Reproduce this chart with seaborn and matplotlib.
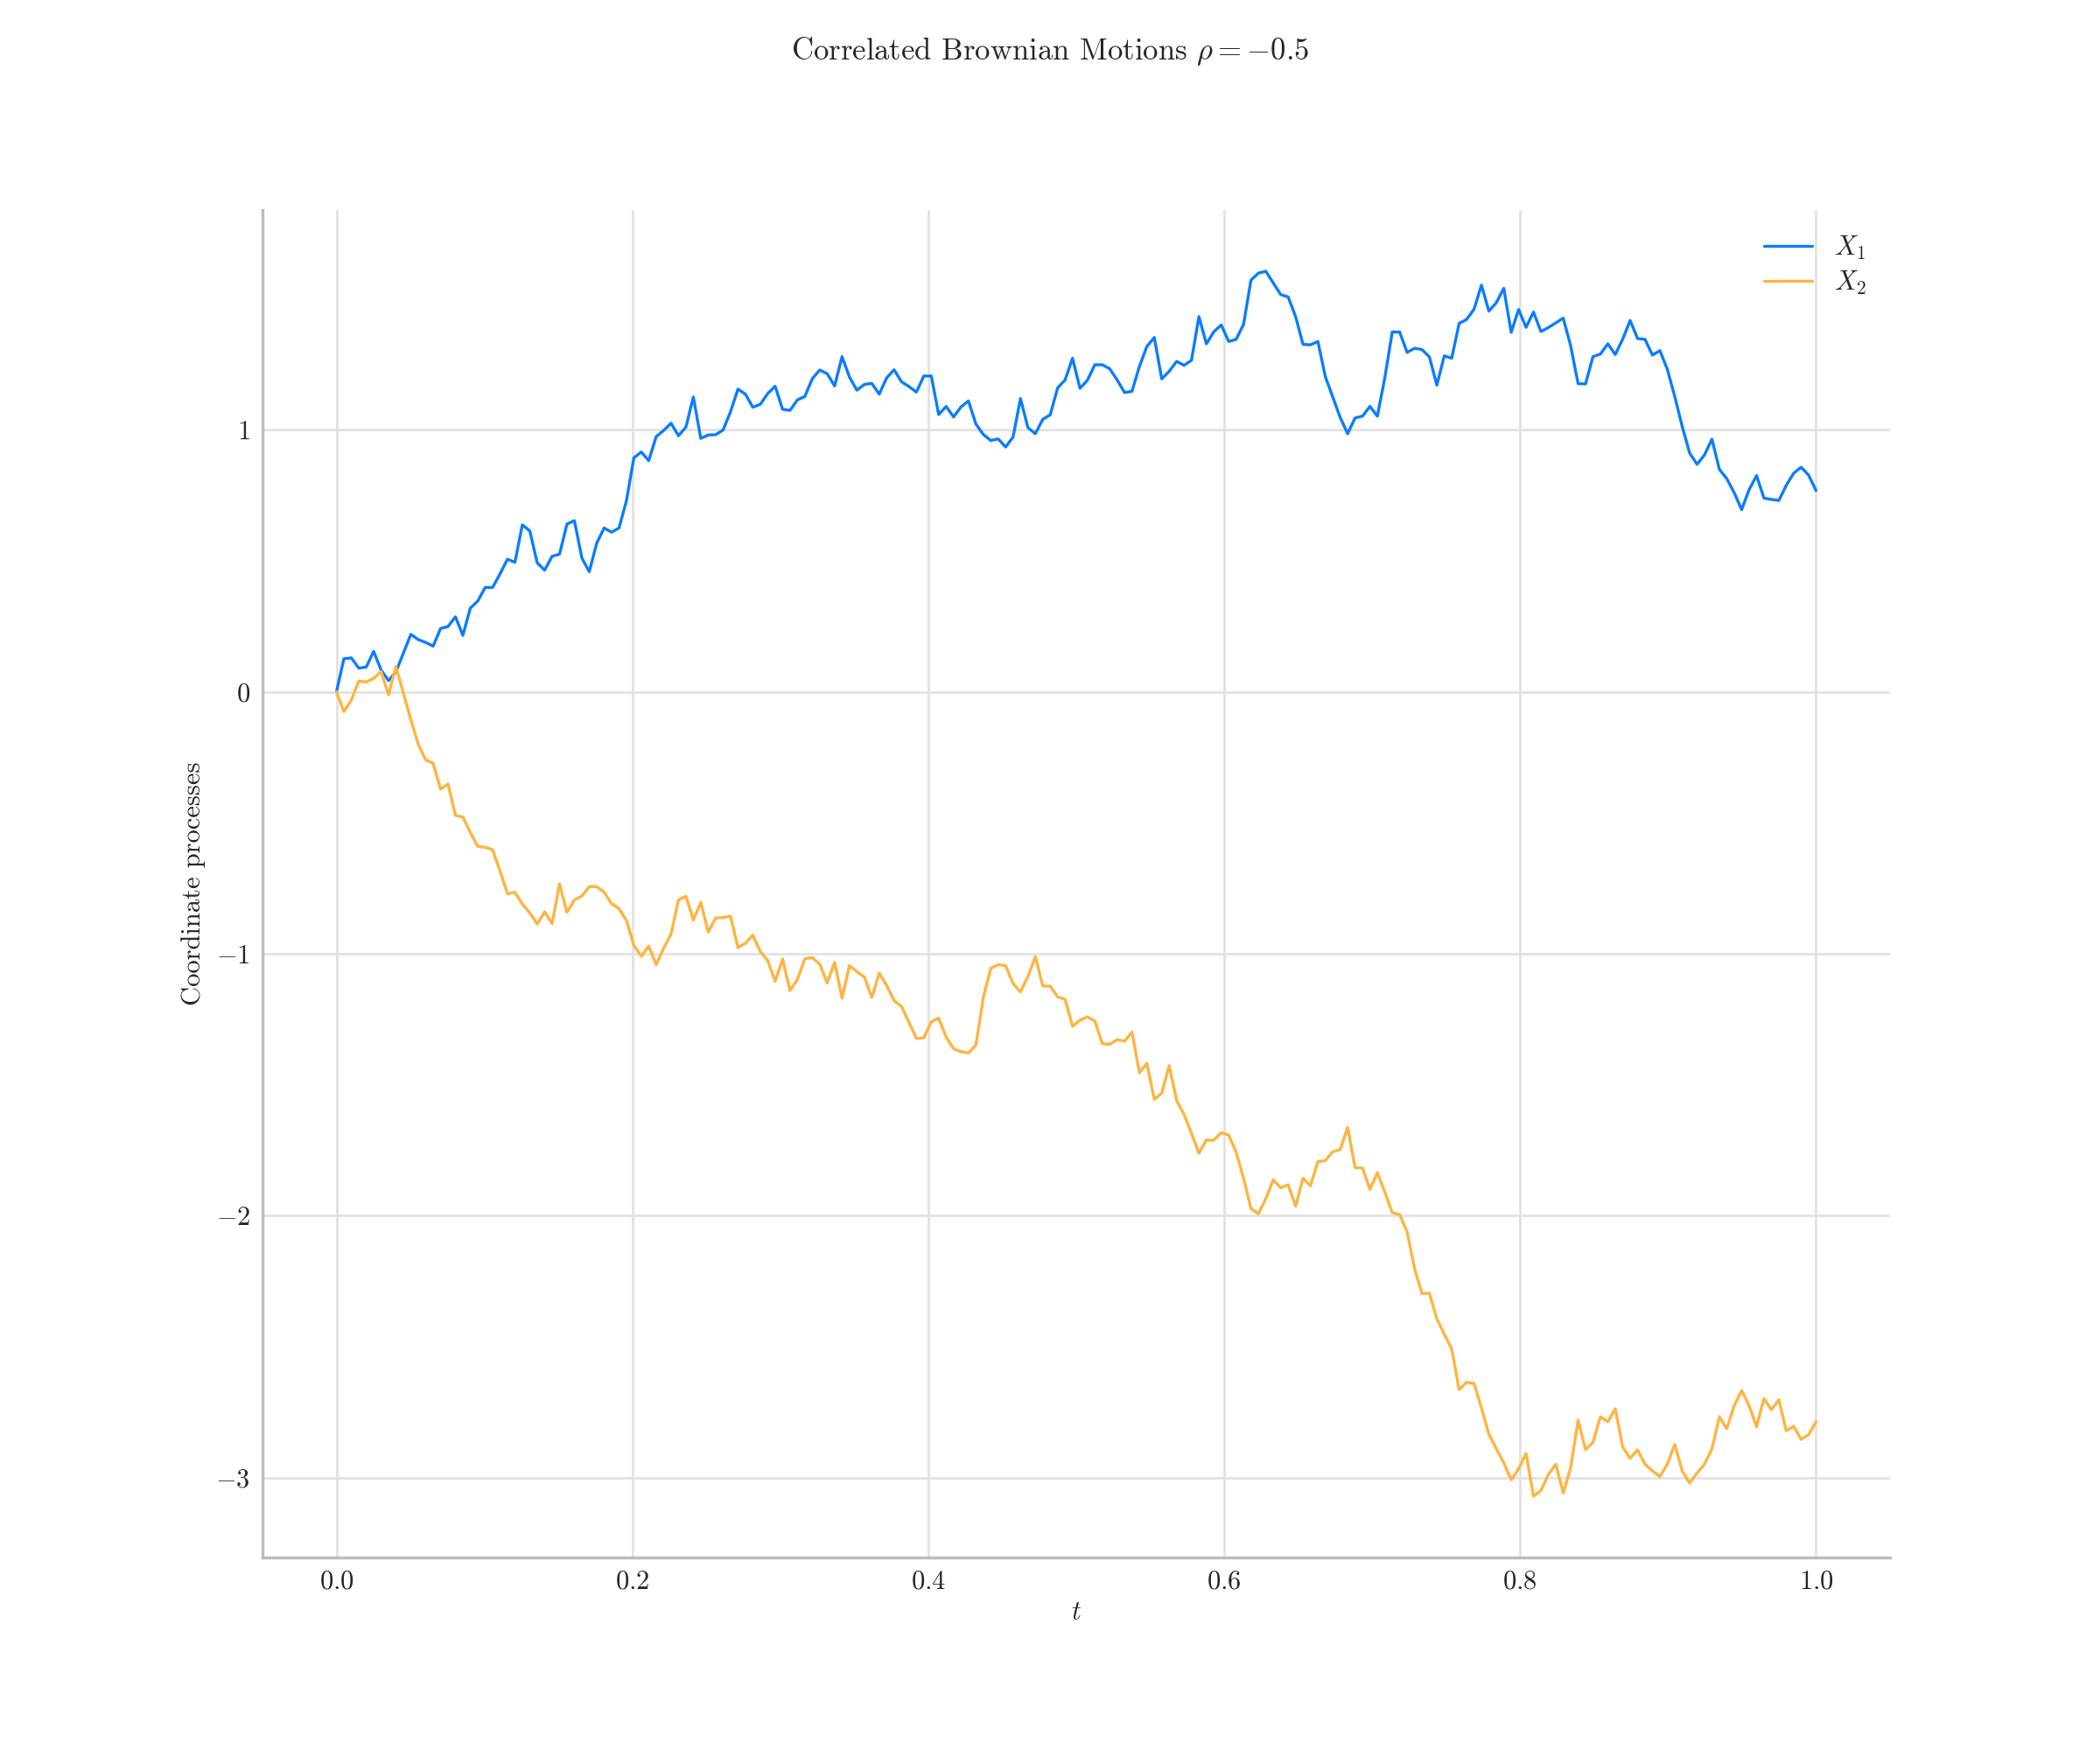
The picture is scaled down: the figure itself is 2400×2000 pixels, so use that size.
import matplotlib

matplotlib.use("Agg")
import matplotlib.pyplot as plt
import numpy as np
import pandas as pd
import seaborn as sns

# 200 grid points on [0, 1]
n_points = 200

x1_values = [
    0.000, 0.126, 0.129, 0.090, 0.094, 0.154, 0.083, 0.042, 0.076, 0.147,
    0.219, 0.199, 0.188, 0.174, 0.241, 0.249, 0.286, 0.215, 0.319, 0.346,
    0.398, 0.398, 0.450, 0.506, 0.494, 0.637, 0.614, 0.492, 0.464, 0.517,
    0.525, 0.640, 0.653, 0.511, 0.458, 0.567, 0.625, 0.609, 0.625, 0.729,
    0.893, 0.915, 0.882, 0.974, 0.997, 1.025, 0.977, 1.010, 1.125, 0.967,
    0.980, 0.981, 0.999, 1.069, 1.155, 1.136, 1.086, 1.097, 1.138, 1.166,
    1.078, 1.074, 1.114, 1.127, 1.195, 1.228, 1.214, 1.167, 1.279, 1.201,
    1.151, 1.173, 1.177, 1.136, 1.198, 1.229, 1.183, 1.165, 1.144, 1.205,
    1.205, 1.058, 1.089, 1.049, 1.087, 1.110, 1.022, 0.982, 0.959, 0.965,
    0.934, 0.972, 1.119, 1.008, 0.985, 1.040, 1.057, 1.160, 1.190, 1.273,
    1.158, 1.189, 1.248, 1.248, 1.233, 1.190, 1.142, 1.147, 1.242, 1.318,
    1.352, 1.194, 1.223, 1.261, 1.246, 1.265, 1.432, 1.328, 1.374, 1.400,
    1.337, 1.345, 1.402, 1.571, 1.598, 1.605, 1.560, 1.516, 1.507, 1.432,
    1.326, 1.324, 1.337, 1.203, 1.125, 1.047, 0.985, 1.045, 1.052, 1.089,
    1.052, 1.198, 1.373, 1.373, 1.295, 1.311, 1.306, 1.278, 1.170, 1.282,
    1.273, 1.406, 1.421, 1.460, 1.552, 1.453, 1.485, 1.540, 1.372, 1.459,
    1.391, 1.449, 1.375, 1.390, 1.408, 1.426, 1.320, 1.176, 1.175, 1.279,
    1.289, 1.328, 1.287, 1.346, 1.417, 1.348, 1.345, 1.285, 1.302, 1.231,
    1.127, 1.013, 0.911, 0.868, 0.904, 0.964, 0.849, 0.813, 0.759, 0.695,
    0.771, 0.825, 0.739, 0.734, 0.730, 0.788, 0.834, 0.857, 0.827, 0.768,
]

x2_values = [
    0.000, -0.076, -0.032, 0.041, 0.037, 0.051, 0.077, -0.012, 0.096, -0.005,
    -0.107, -0.200, -0.260, -0.273, -0.372, -0.352, -0.472, -0.478, -0.537, -0.590,
    -0.594, -0.603, -0.685, -0.771, -0.765, -0.810, -0.844, -0.887, -0.840, -0.885,
    -0.733, -0.842, -0.795, -0.780, -0.744, -0.744, -0.765, -0.809, -0.828, -0.873,
    -0.968, -1.010, -0.971, -1.042, -0.979, -0.925, -0.795, -0.781, -0.872, -0.804,
    -0.917, -0.864, -0.862, -0.857, -0.977, -0.960, -0.929, -0.992, -1.026, -1.105,
    -1.020, -1.141, -1.098, -1.019, -1.015, -1.040, -1.112, -1.033, -1.170, -1.045,
    -1.069, -1.089, -1.167, -1.074, -1.121, -1.179, -1.201, -1.262, -1.324, -1.321,
    -1.260, -1.246, -1.318, -1.363, -1.374, -1.379, -1.349, -1.167, -1.056, -1.042,
    -1.046, -1.114, -1.146, -1.087, -1.011, -1.123, -1.124, -1.165, -1.174, -1.277,
    -1.254, -1.241, -1.257, -1.343, -1.346, -1.328, -1.334, -1.299, -1.454, -1.419,
    -1.556, -1.532, -1.427, -1.560, -1.614, -1.686, -1.762, -1.711, -1.712, -1.683,
    -1.692, -1.757, -1.857, -1.973, -1.993, -1.935, -1.863, -1.894, -1.882, -1.964,
    -1.857, -1.886, -1.793, -1.790, -1.756, -1.748, -1.663, -1.817, -1.818, -1.900,
    -1.836, -1.910, -1.988, -1.996, -2.062, -2.202, -2.297, -2.296, -2.394, -2.452,
    -2.509, -2.664, -2.636, -2.640, -2.734, -2.834, -2.890, -2.943, -3.008, -2.966,
    -2.908, -3.071, -3.049, -2.988, -2.949, -3.058, -2.962, -2.781, -2.893, -2.865,
    -2.768, -2.787, -2.737, -2.884, -2.926, -2.894, -2.949, -2.974, -2.996, -2.949,
    -2.873, -2.974, -3.021, -2.982, -2.949, -2.890, -2.767, -2.813, -2.725, -2.667,
    -2.725, -2.806, -2.698, -2.741, -2.703, -2.821, -2.804, -2.854, -2.836, -2.787,
]

series_labels = ["$X_1$", "$X_2$"]
series_colors = ["#0A7CFF", "#FFB340"]

t = np.linspace(0.0, 1.0, n_points)

sns.set_theme(style="whitegrid")
plt.rcParams["font.family"] = ["serif"]
plt.rcParams["font.serif"] = ["cmr10", "DejaVu Serif"]
plt.rcParams["mathtext.fontset"] = "cm"
plt.rcParams["axes.formatter.use_mathtext"] = True
plt.rcParams["axes.unicode_minus"] = True
plt.rcParams["grid.color"] = "#e2e2e2"
plt.rcParams["axes.edgecolor"] = "#bdbdbd"

fig, ax = plt.subplots(figsize=(12, 10), dpi=200)
fig.subplots_adjust(left=0.125, right=0.9, bottom=0.11, top=0.88)

for vals, lab, col in zip([x1_values, x2_values], series_labels, series_colors):
    sns.lineplot(x=t, y=vals, label=lab, color=col, linewidth=1.2, ax=ax)

sns.despine(ax=ax)
ax.set_xticks([0.0, 0.2, 0.4, 0.6, 0.8, 1.0])
ax.set_yticks([-3, -2, -1, 0, 1])
ax.tick_params(labelsize=11, length=0, pad=5)
ax.set_xlabel("$t$", fontsize=11, labelpad=3)
ax.set_ylabel("Coordinate processes", fontsize=11)
fig.suptitle(r"Correlated Brownian Motions $\rho = -0.5$", fontsize=12.5)

leg = ax.legend(loc="upper right", frameon=False, fontsize=11,
                handlelength=1.8, labelspacing=0.3)

fig.savefig("out.png", dpi=200)
